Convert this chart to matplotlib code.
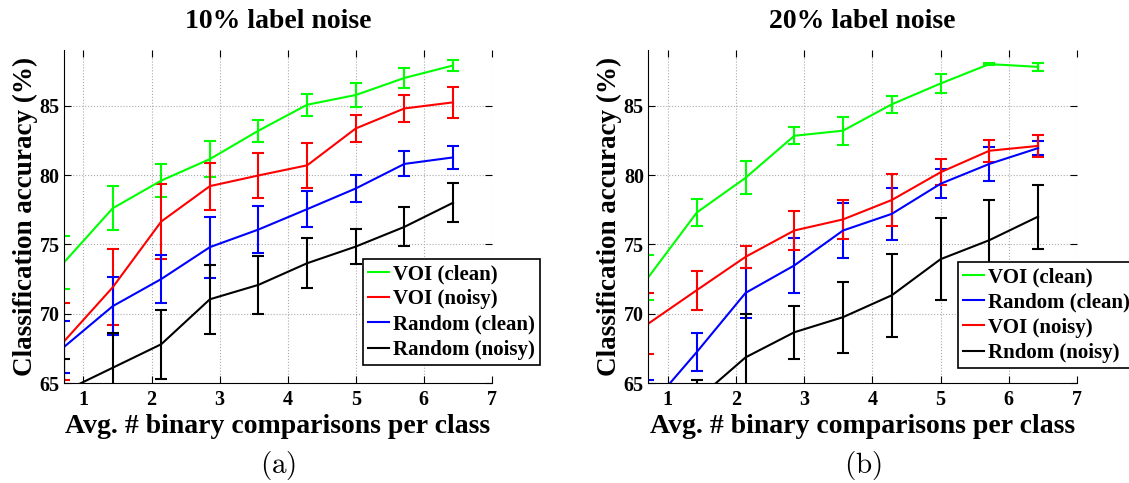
import matplotlib.pyplot as plt
from matplotlib.lines import Line2D

plt.rcParams['font.family'] = 'Liberation Serif'
plt.rcParams['font.weight'] = 'bold'
plt.rcParams['mathtext.fontset'] = 'cm'

# x positions: average number of binary comparisons per class
x = [0.714, 1.429, 2.143, 2.857, 3.571, 4.286, 5.0, 5.714, 6.429]

# (a) 10% label noise
voi_clean_a = [73.7, 77.6, 79.6, 81.15, 83.2, 85.07, 85.77, 87.0, 87.9]
voi_clean_a_err = [1.9, 1.6, 1.2, 1.3, 0.8, 0.8, 0.9, 0.7, 0.4]
voi_noisy_a = [68.0, 71.9, 76.65, 79.2, 79.97, 80.7, 83.36, 84.8, 85.24]
voi_noisy_a_err = [2.75, 2.75, 2.7, 1.7, 1.6, 1.6, 0.95, 0.95, 1.1]
rand_clean_a = [67.6, 70.54, 72.5, 74.8, 76.07, 77.54, 79.03, 80.8, 81.27]
rand_clean_a_err = [1.9, 2.1, 1.7, 2.2, 1.7, 1.3, 1.0, 0.9, 0.8]
rand_noisy_a = [64.4, 66.1, 67.8, 71.04, 72.08, 73.64, 74.84, 76.26, 78.0]
rand_noisy_a_err = [2.3, 2.5, 2.5, 2.5, 2.1, 1.8, 1.25, 1.4, 1.4]

# (b) 20% label noise
voi_clean_b = [72.6, 77.3, 79.8, 82.83, 83.2, 85.1, 86.6, 88.0, 87.8]
voi_clean_b_err = [1.6, 1.0, 1.2, 0.6, 1.0, 0.6, 0.65, 0.1, 0.3]
rand_clean_b = [63.15, 67.24, 71.5, 73.48, 76.0, 77.2, 79.37, 80.8, 81.94]
rand_clean_b_err = [2.05, 1.4, 1.8, 2.0, 2.0, 1.9, 1.05, 1.2, 0.5]
voi_noisy_b = [69.27, 71.7, 74.1, 76.0, 76.8, 78.2, 80.2, 81.75, 82.1]
voi_noisy_b_err = [2.2, 1.4, 0.8, 1.4, 1.4, 1.85, 0.95, 0.8, 0.8]
rand_noisy_b = [61.0, 63.8, 66.85, 68.66, 69.75, 71.33, 73.93, 75.3, 77.0]
rand_noisy_b_err = [2.0, 1.4, 3.1, 1.9, 2.55, 3.0, 2.95, 2.9, 2.3]

fig = plt.figure(figsize=(11.29, 4.83), dpi=100)
ax1 = fig.add_axes([0.0567, 0.207, 0.379, 0.689])
ax2 = fig.add_axes([0.574, 0.207, 0.380, 0.689])


def draw(ax, series, title, letter, leg_box):
    handles = []
    for y, e, c, lab in series:
        ax.errorbar(x, y, yerr=e, color=c, lw=1.5, elinewidth=1.5,
                    capsize=4, capthick=1.5)
        handles.append(Line2D([], [], color=c, lw=1.5, label=lab))
    ax.set_xlim(0.714, 7)
    ax.set_ylim(65, 89)
    ax.set_xticks([1, 2, 3, 4, 5, 6, 7])
    ax.set_yticks([65, 70, 75, 80, 85])
    ax.grid(True, ls=':', color='#aaaaaa', lw=0.8)
    ax.tick_params(direction='in', labelsize=14.5, top=True, right=True,
                   length=5, pad=3)
    ax.tick_params(axis='x', pad=5)
    for s in ['top', 'right']:
        ax.spines[s].set_visible(False)
    ax.set_title(title, fontsize=20, fontweight='bold', pad=16)
    ax.set_xlabel('Avg. # binary comparisons per class', fontsize=20,
                  fontweight='bold', labelpad=3)
    ax.set_ylabel('Classification accuracy (%)', fontsize=19.5,
                  fontweight='bold', labelpad=1)
    bb = ax.get_position()
    fig.text((bb.x0 + bb.x1) / 2, 1 - 465 / 483, letter, ha='center',
             va='center', fontsize=21)
    leg = ax.legend(handles=handles, loc='upper left', bbox_to_anchor=leg_box,
                    bbox_transform=fig.transFigure, fontsize=15,
                    handlelength=1.0, handletextpad=0.2, borderpad=0.25,
                    labelspacing=0.25, borderaxespad=0, fancybox=False,
                    framealpha=1, edgecolor='black')
    leg.get_frame().set_linewidth(1.2)


draw(ax1, [(voi_clean_a, voi_clean_a_err, '#00ff00', 'VOI (clean)'),
           (voi_noisy_a, voi_noisy_a_err, '#ff0000', 'VOI (noisy)'),
           (rand_clean_a, rand_clean_a_err, '#0000ff', 'Random (clean)'),
           (rand_noisy_a, rand_noisy_a_err, '#000000', 'Random (noisy)')],
     '10% label noise', r'$\mathrm{(a)}$', (363 / 1129, 1 - 259 / 483))

draw(ax2, [(voi_clean_b, voi_clean_b_err, '#00ff00', 'VOI (clean)'),
           (rand_clean_b, rand_clean_b_err, '#0000ff', 'Random (clean)'),
           (voi_noisy_b, voi_noisy_b_err, '#ff0000', 'VOI (noisy)'),
           (rand_noisy_b, rand_noisy_b_err, '#000000', 'Rndom (noisy)')],
     '20% label noise', r'$\mathrm{(b)}$', (958 / 1129, 1 - 262 / 483))

fig.savefig('out.png', dpi=100)
